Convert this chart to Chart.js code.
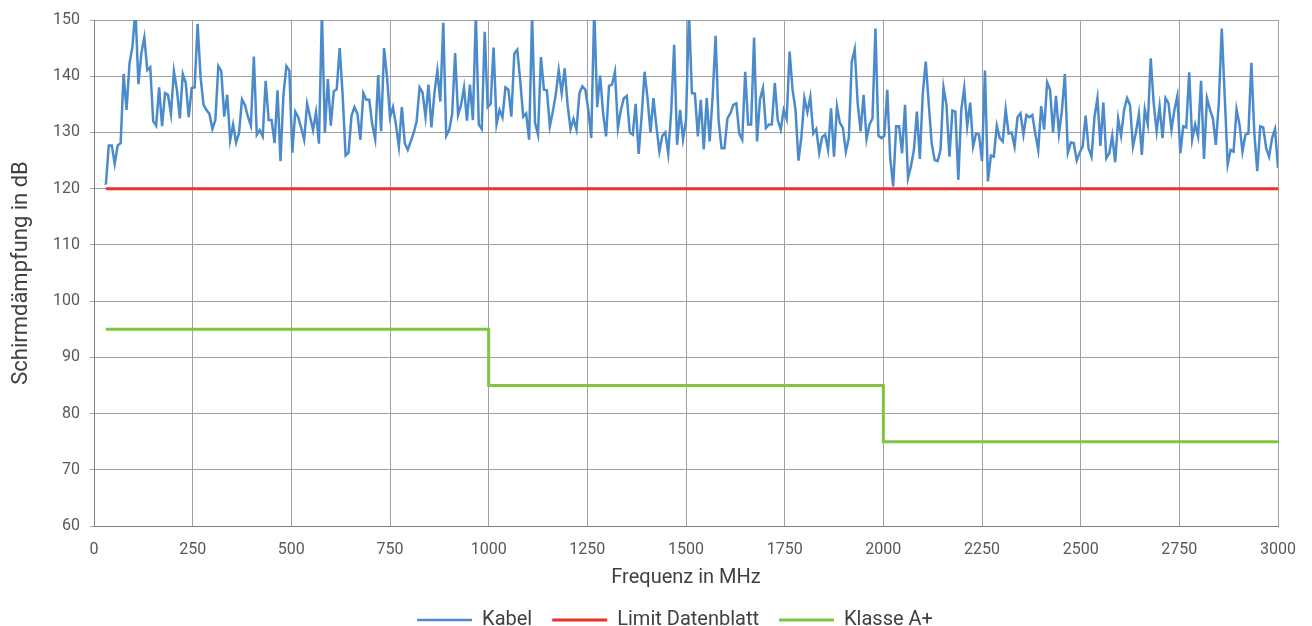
<!DOCTYPE html>
<html>
<head>
<meta charset="utf-8">
<script src="https://cdn.jsdelivr.net/npm/chart.js@4.4.0/dist/chart.umd.min.js"></script>
<style>
  html, body { margin: 0; padding: 0; background: #fff; }
  canvas { display: block; }
</style>
</head>
<body>
<canvas id="chart" width="1312" height="626"></canvas>
<script>
// Messwerte Kabel in dB, ab 30 MHz alle 7,5 MHz
var kabelStart = 30;
var kabelStep = 7.5;
var kabelWerte = [
    120.7, 127.7, 127.7, 124.4, 127.7, 128.1, 140.4, 134.0, 142.3, 145.3, 152.0, 138.6, 144.1, 146.9, 141.1, 141.6,
    132.0, 131.2, 138.0, 131.1, 137.0, 136.7, 133.3, 140.9, 137.6, 132.5, 140.4, 138.8, 132.7, 137.9, 138.0, 149.3,
    139.9, 134.9, 134.0, 133.3, 130.6, 132.2, 141.8, 140.9, 132.8, 136.7, 128.6, 131.4, 128.2, 129.9,
    135.9, 134.9, 132.8, 131.2, 143.5, 129.6, 130.4, 129.3, 139.2, 132.2, 132.2, 128.1, 137.5, 124.9, 136.7, 141.8,
    141.0, 126.4, 133.7, 132.7, 130.8, 128.7, 135.1, 132.8, 130.4, 133.6, 128.0, 151.5, 129.9, 139.5, 131.2, 137.3,
    137.7, 145.0, 136.7, 125.9, 126.4, 133.0, 134.5, 133.3, 128.7, 137.0, 135.8, 135.8, 131.4, 128.8, 140.2, 130.2, 145.0,
    139.9, 132.7, 134.5, 131.4, 127.5, 134.5, 128.1, 126.9, 128.4, 129.9, 132.0, 138.0, 137.1, 132.8, 138.5, 130.9,
    137.0, 141.0, 135.5, 149.5, 129.4, 130.4, 133.3, 144.1, 133.1, 134.9, 138.0, 132.1, 138.5, 132.2, 151.0, 131.4,
    130.6, 147.9, 134.5, 135.1, 145.1, 131.5, 134.0, 132.7, 138.0, 137.6, 132.8, 144.0, 144.7, 139.2, 132.8, 133.4, 128.7,
    151.0, 131.7, 129.6, 143.4, 137.6, 137.5, 131.1, 133.7, 136.7, 141.1, 137.0, 141.4, 134.9, 130.6, 132.4, 130.5,
    137.0, 138.2, 137.6, 134.0, 129.0, 152.0, 134.5, 140.1, 133.4, 129.3, 138.3, 138.5, 140.8, 130.8, 134.0, 136.1,
    136.5, 130.0, 129.6, 135.1, 126.2, 132.8, 140.8, 136.1, 130.0, 136.1, 131.1, 126.6, 129.4, 130.0, 126.2, 133.7, 145.6,
    127.8, 134.0, 128.8, 132.2, 151.5, 137.0, 136.9, 129.3, 135.8, 127.0, 136.1, 128.4, 136.4, 147.2, 132.2, 127.2,
    127.2, 132.5, 133.4, 134.9, 135.2, 129.8, 128.7, 140.8, 131.4, 131.4, 146.9, 128.4, 135.9, 137.9, 130.8, 131.4,
    131.4, 138.8, 132.2, 130.5, 134.0, 132.4, 144.4, 137.6, 134.0, 125.0, 129.3, 136.1, 133.6, 136.3, 129.8, 130.6, 126.4,
    129.2, 129.6, 126.9, 134.3, 125.7, 134.6, 131.7, 130.8, 126.6, 129.0, 142.6, 144.8, 135.2, 130.2, 136.7, 128.8,
    131.4, 132.5, 148.5, 129.4, 129.0, 129.4, 137.6, 125.4, 120.4, 131.1, 131.1, 126.3, 134.9, 121.9, 124.0, 126.9,
    133.7, 125.3, 137.0, 142.6, 135.1, 128.1, 125.1, 124.9, 126.9, 138.0, 134.9, 125.7, 133.9, 133.7, 121.6, 134.0, 137.9,
    131.1, 135.3, 127.5, 129.8, 129.6, 124.9, 141.0, 121.3, 125.9, 125.7, 131.2, 129.0, 128.4, 134.1, 129.8, 130.0,
    127.5, 132.7, 133.4, 129.6, 133.1, 132.7, 133.1, 129.8, 126.9, 134.7, 130.5, 138.9, 137.6, 130.0, 136.5, 129.8,
    133.9, 140.4, 126.4, 128.2, 128.1, 125.0, 126.4, 127.5, 133.0, 127.2, 125.7, 132.7, 136.1, 127.6, 135.3, 125.4, 126.3,
    129.4, 124.7, 132.4, 129.4, 134.0, 136.1, 134.9, 127.5, 130.0, 133.3, 126.0, 134.1, 131.4, 143.2, 135.2, 130.2,
    134.6, 129.0, 136.1, 135.2, 130.5, 134.0, 136.5, 126.3, 131.1, 130.9, 140.7, 128.7, 131.4, 129.3, 139.2, 125.3,
    136.1, 134.1, 132.5, 127.8, 135.2, 148.5, 136.4, 124.3, 126.9, 126.6, 134.1, 131.4, 126.6, 129.6, 129.8, 142.4, 129.9,
    123.1, 131.1, 130.9, 127.2, 125.7, 129.0, 130.6, 123.7
];

// Grenzwert Datenblatt
var limitFreq = [30, 3000];
var limitWerte = [120, 120];

// Klasse A+ (Stufen)
var klasseFreq = [30, 1000, 2000, 3000];
var klasseWerte = [95, 85, 75, 75];

// Achsen
var xMin = 0, xMax = 3000, xSchritt = 250;
var yMin = 60, yMax = 150, ySchritt = 10;

function punkte(xs, ys) {
    return ys.map(function (y, i) { return { x: xs[i], y: y }; });
}

var kabelFreq = kabelWerte.map(function (v, i) { return kabelStart + i * kabelStep; });

Chart.defaults.font.family = 'Roboto';
Chart.defaults.color = '#595959';

// Legende etwas nach rechts schieben
var legendeVerschieben = {
    id: 'legendeVerschieben',
    afterLayout: function (chart) {
        chart.legend.left += 36;
        chart.legend.right += 36;
    }
};

var ctx = document.getElementById('chart').getContext('2d');
new Chart(ctx, {
    type: 'line',
    data: {
        datasets: [
            {
                label: 'Kabel',
                data: punkte(kabelFreq, kabelWerte),
                borderColor: '#4b8bcb',
                backgroundColor: '#4b8bcb',
                borderWidth: 2.5,
                pointRadius: 0,
                tension: 0
            },
            {
                label: 'Limit Datenblatt',
                data: punkte(limitFreq, limitWerte),
                borderColor: '#f0302a',
                backgroundColor: '#f0302a',
                borderWidth: 3,
                pointRadius: 0
            },
            {
                label: 'Klasse A+',
                data: punkte(klasseFreq, klasseWerte),
                borderColor: '#82c341',
                backgroundColor: '#82c341',
                borderWidth: 3,
                pointRadius: 0,
                stepped: true
            }
        ]
    },
    options: {
        responsive: false,
        animation: false,
        layout: {
            padding: { top: 20, right: 34, left: 0, bottom: -14 }
        },
        plugins: {
            legend: {
                position: 'bottom',
                labels: {
                    usePointStyle: true,
                    pointStyle: 'line',
                    pointStyleWidth: 55,
                    padding: 20,
                    color: '#404040',
                    font: { size: 20 }
                }
            },
            tooltip: { enabled: false }
        },
        scales: {
            x: {
                type: 'linear',
                min: xMin,
                max: xMax,
                ticks: {
                    stepSize: xSchritt,
                    padding: 14,
                    font: { size: 16 },
                    maxRotation: 0,
                    callback: function (v) { return String(v); }
                },
                grid: { color: '#a0a0a0', drawTicks: false },
                border: { color: '#808080' },
                title: { display: true, text: 'Frequenz in MHz', font: { size: 20 }, color: '#404040', padding: { top: 0, bottom: 0 } },
                afterFit: function (scale) { scale.height = 64; }
            },
            y: {
                min: yMin,
                max: yMax,
                ticks: { stepSize: ySchritt, padding: 10, font: { size: 16 } },
                grid: { color: '#a0a0a0', tickLength: 4 },
                border: { color: '#808080' },
                title: { display: true, text: 'Schirmdämpfung in dB', font: { size: 22 }, color: '#404040', padding: { top: 8, bottom: 0 } },
                afterFit: function (scale) { scale.width = 94; }
            }
        }
    },
    plugins: [legendeVerschieben]
});
</script>
</body>
</html>
